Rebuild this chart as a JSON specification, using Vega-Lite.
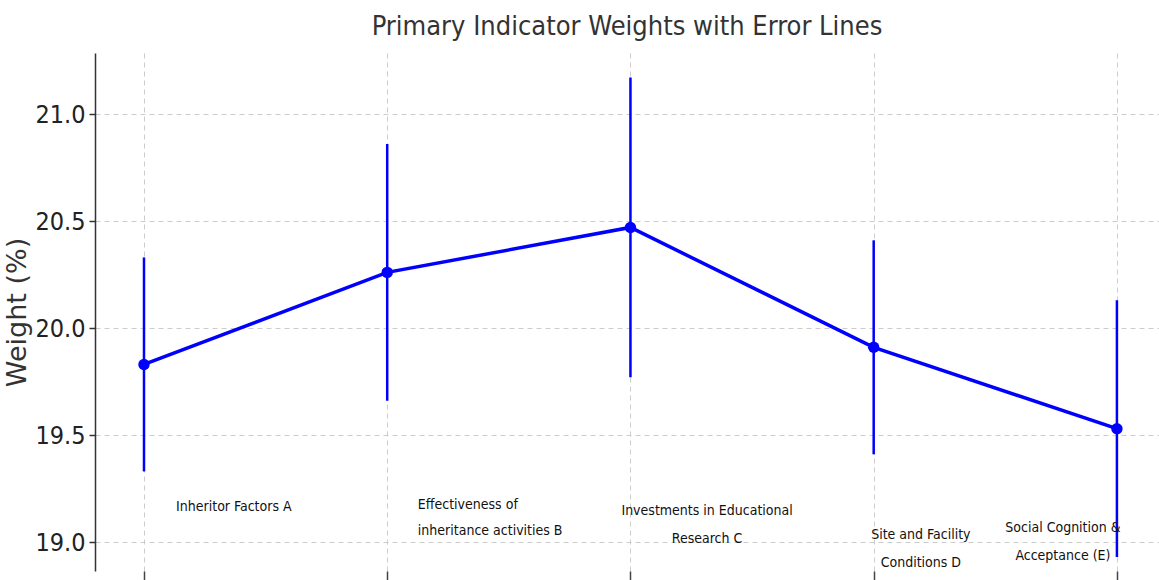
{
  "$schema": "https://vega.github.io/schema/vega-lite/v6.json",
  "autosize": "none",
  "width": 1064,
  "height": 518,
  "padding": {"left": 95, "top": 53, "right": 0, "bottom": 9},
  "background": "white",
  "title": {
    "text": "Primary Indicator Weights with Error Lines",
    "font": "DejaVu Sans Condensed, Roboto Condensed, Roboto",
    "fontSize": 27,
    "fontWeight": "normal",
    "color": "#333333",
    "anchor": "middle",
    "offset": 12
  },
  "config": {
    "view": {"stroke": null}
  },
  "datasets": {
    "points": [
      {"idx": 0, "indicator": "Inheritor Factors A", "weight": 19.83, "lo": 19.33, "hi": 20.33},
      {"idx": 1, "indicator": "Effectiveness of inheritance activities B", "weight": 20.26, "lo": 19.66, "hi": 20.86},
      {"idx": 2, "indicator": "Investments in Educational Research C", "weight": 20.47, "lo": 19.77, "hi": 21.17},
      {"idx": 3, "indicator": "Site and Facility Conditions D", "weight": 19.91, "lo": 19.41, "hi": 20.41},
      {"idx": 4, "indicator": "Social Cognition & Acceptance (E)", "weight": 19.53, "lo": 18.93, "hi": 20.13}
    ],
    "labels_left": [
      {"lx": 0.132, "ly": 19.164, "label": ["Inheritor Factors  A"]},
      {"lx": 1.126, "ly": 19.173, "label": ["Effectiveness of", "inheritance activities B"]}
    ],
    "labels_center": [
      {"lx": 2.315, "ly": 19.145, "label": ["Investments in Educational", "Research C"]},
      {"lx": 3.194, "ly": 19.033, "label": ["Site and Facility", "Conditions D"]},
      {"lx": 3.778, "ly": 19.065, "label": ["Social Cognition &", "Acceptance (E)"]}
    ]
  },
  "layer": [
    {
      "data": {"name": "points"},
      "mark": {"type": "rule", "color": "#0000ff", "strokeWidth": 2.5},
      "encoding": {
        "x": {
          "field": "idx", "type": "quantitative",
          "scale": {"domain": [-0.2014, 4.173], "nice": false, "zero": false},
          "axis": {
            "values": [0, 1, 2, 3, 4],
            "labels": false,
            "title": null,
            "domain": false,
            "ticks": true,
            "tickSize": 9,
            "tickColor": "#444444",
            "tickWidth": 1.5,
            "grid": true,
            "gridColor": "#cccccc",
            "gridDash": [5, 4],
            "gridWidth": 1
          }
        },
        "y": {
          "field": "lo", "type": "quantitative",
          "scale": {"domain": [18.865, 21.285], "nice": false, "zero": false},
          "axis": {
            "values": [19.0, 19.5, 20.0, 20.5, 21.0],
            "format": ".1f",
            "title": "Weight (%)",
            "titleFont": "DejaVu Sans",
            "titleFontSize": 27,
            "titleFontWeight": "normal",
            "titleColor": "#333333",
            "titlePadding": 3,
            "labelFont": "DejaVu Sans Condensed, Roboto Condensed, Roboto",
            "labelFontSize": 25,
            "labelColor": "#222222",
            "labelPadding": 4,
            "domain": true,
            "domainColor": "#333333",
            "domainWidth": 1.5,
            "tickColor": "#333333",
            "tickSize": 6,
            "tickWidth": 1.5,
            "grid": true,
            "gridColor": "#cccccc",
            "gridDash": [5, 4],
            "gridWidth": 1
          }
        },
        "y2": {"field": "hi"}
      }
    },
    {
      "data": {"name": "points"},
      "mark": {"type": "line", "color": "#0000ff", "strokeWidth": 3.5},
      "encoding": {
        "x": {"field": "idx", "type": "quantitative"},
        "y": {"field": "weight", "type": "quantitative"}
      }
    },
    {
      "data": {"name": "points"},
      "mark": {"type": "point", "filled": true, "color": "#0000ff", "size": 130, "opacity": 1},
      "encoding": {
        "x": {"field": "idx", "type": "quantitative"},
        "y": {"field": "weight", "type": "quantitative"}
      }
    },
    {
      "data": {"name": "labels_left"},
      "mark": {"type": "text", "font": "DejaVu Sans Condensed, Roboto Condensed, Roboto", "fontSize": 14, "color": "#111111", "align": "left", "baseline": "middle", "lineHeight": 26},
      "encoding": {
        "x": {"field": "lx", "type": "quantitative"},
        "y": {"field": "ly", "type": "quantitative"},
        "text": {"field": "label"}
      }
    },
    {
      "data": {"name": "labels_center"},
      "mark": {"type": "text", "font": "DejaVu Sans Condensed, Roboto Condensed, Roboto", "fontSize": 14, "color": "#111111", "align": "center", "baseline": "middle", "lineHeight": 28},
      "encoding": {
        "x": {"field": "lx", "type": "quantitative"},
        "y": {"field": "ly", "type": "quantitative"},
        "text": {"field": "label"}
      }
    }
  ]
}
